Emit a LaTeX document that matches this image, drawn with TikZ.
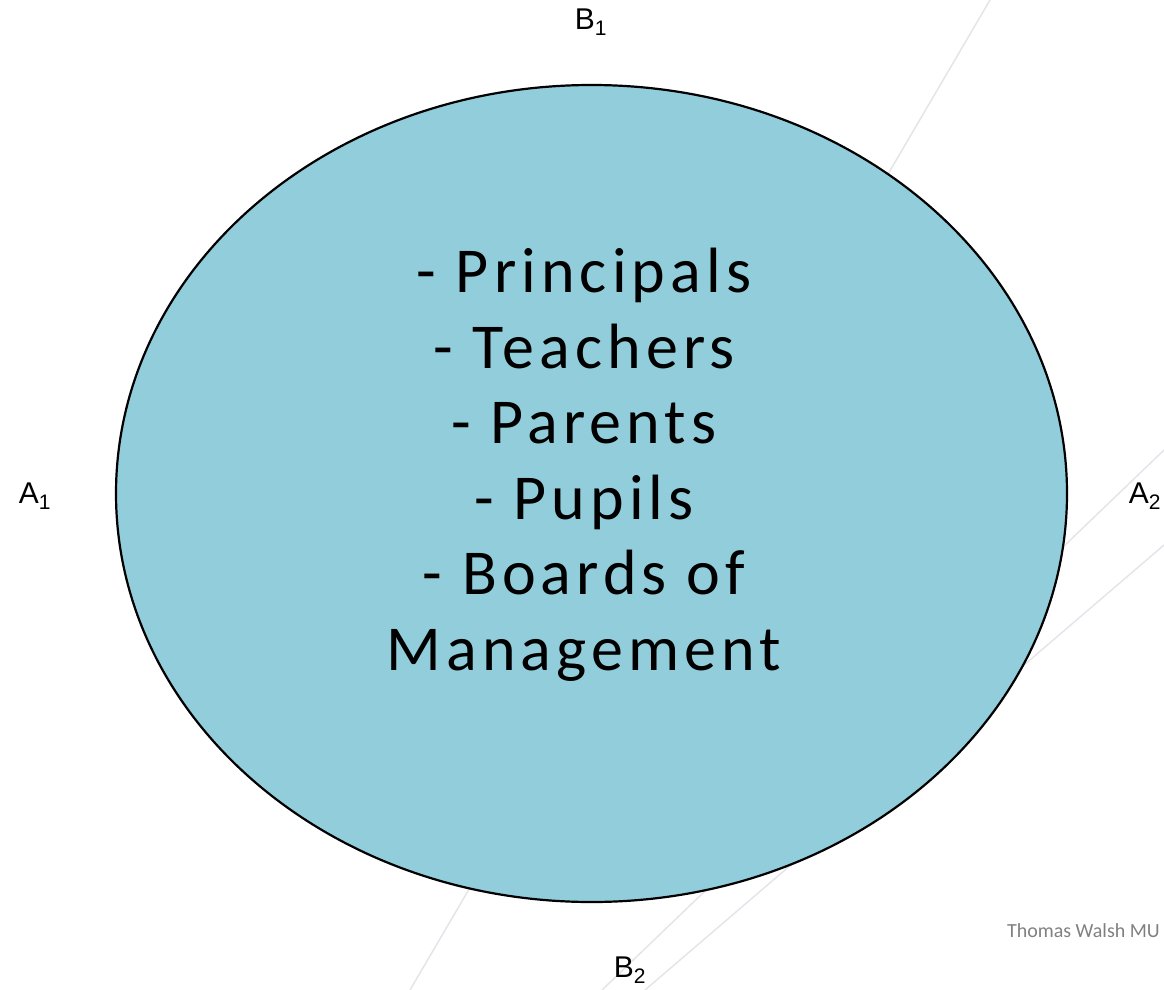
\documentclass[tikz,border=0pt]{standalone}
\usepackage{fontspec}
\setmainfont{Carlito}
\newfontfamily\spacedfont[LetterSpace=8]{Carlito}
\newfontfamily\labelfont{Liberation Sans}
\usetikzlibrary{shapes.geometric}

\definecolor{aquaFill}{HTML}{92CDDC}
\definecolor{guideGray}{RGB}{228,228,234}

\tikzstyle{cloud} = [draw, ellipse, line width=2.2pt, inner sep=0pt]
\tikzstyle{axislabel} = [inner sep=0pt, font=\labelfont\fontsize{30}{32}\selectfont]
\tikzstyle{guide} = [guideGray, line width=1.5pt]

\begin{document}
\begin{tikzpicture} [x=1pt, y=-1pt]

\useasboundingbox (0,0) rectangle (1164,990);

\draw[guide] (990,0) -- (410,990);
\draw[guide] (1164,450) -- (602,990);
\draw[guide] (1164,545) -- (645,990);

\node at (591.5,493.5)[cloud,
               fill=aquaFill,
               minimum width=951pt,minimum height=817pt]
               (E) {};

\node at (584,465)[align=center,inner sep=0pt,
               font=\spacedfont\fontsize{64}{75.5}\selectfont]
               (G) {- Principals\\- Teachers\\- Parents\\- Pupils\\- Boards of\\Management};

\node at (591,22)[axislabel] (B1) {B\textsubscript{1}};
\node at (630,970)[axislabel] (B2) {B\textsubscript{2}};
\node at (35,496)[axislabel] (A1) {A\textsubscript{1}};
\node at (1145,496)[axislabel] (A2) {A\textsubscript{2}};

\node at (1160,931)[anchor=east,inner sep=0pt,
               text=gray,font=\fontsize{20}{22}\selectfont]
               (W) {Thomas Walsh MU};

\end{tikzpicture}
\end{document}
